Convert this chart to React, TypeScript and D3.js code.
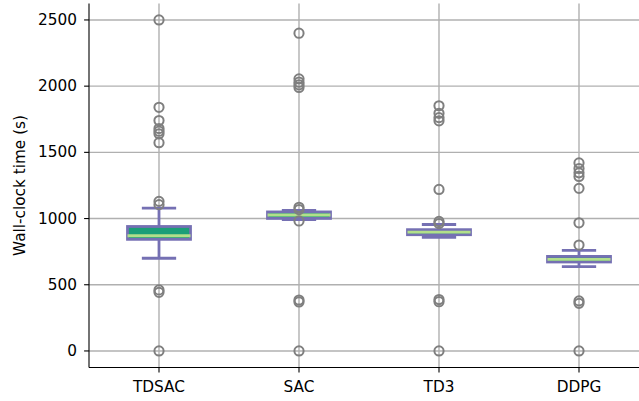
import React from "react";
import * as d3 from "d3";

// Wall-clock time per algorithm, summarised as box statistics (seconds)
const algorithms = ["TDSAC", "SAC", "TD3", "DDPG"];
const whiskerLow = [700, 992, 858, 637];
const q1 = [843, 1001, 878, 672];
const median = [870, 1027, 897, 691];
const q3 = [940, 1050, 916, 714];
const whiskerHigh = [1078, 1062, 955, 760];
const fliers = [
  [2500, 1840, 1740, 1680, 1660, 1640, 1573, 1130, 1105, 461, 443, 0],
  [2400, 2055, 2030, 2010, 1990, 1085, 1068, 982, 385, 370, 0],
  [1852, 1795, 1762, 1738, 1220, 978, 962, 388, 372, 0],
  [1420, 1378, 1345, 1318, 1228, 968, 800, 378, 360, 0],
];
const yTicks = [0, 500, 1000, 1500, 2000, 2500];

const W = 639;
const H = 401;
const axLeft = 89;
const axRight = 649;
const axTop = 3.4;
const axBottom = 367.5;

const purple = "#7570b3";
const fillGreen = "#1b9e77";
const medianGreen = "#b2df8a";
const flierGray = "#7f7f7f";
const gridGray = "#b0b0b0";
const font = "DejaVu Sans, sans-serif";
const fontSize = 15.3;

export default function App() {
  const x = d3
    .scaleLinear()
    .domain([-0.5, algorithms.length - 0.5])
    .range([axLeft, axRight]);
  const y = d3.scaleLinear().domain([-125, 2625]).range([axBottom, axTop]);

  const step = x(1) - x(0);
  const boxW = step * 0.45;
  const capW = boxW * 0.5;

  return (
    <svg
      width={W}
      height={H}
      style={{ position: "absolute", left: 0, top: 0, background: "#fff" }}
      fontFamily={font}
    >
      <defs>
        <clipPath id="plot">
          <rect x={axLeft} y={0} width={axRight - axLeft} height={axBottom} />
        </clipPath>
      </defs>

      {/* grid */}
      <g stroke={gridGray} strokeWidth={1.4}>
        {yTicks.map((t) => (
          <line key={`gy${t}`} x1={axLeft} x2={axRight} y1={y(t)} y2={y(t)} />
        ))}
        {algorithms.map((a, i) => (
          <line key={`gx${a}`} x1={x(i)} x2={x(i)} y1={axTop} y2={axBottom} />
        ))}
      </g>

      {/* boxes */}
      <g clipPath="url(#plot)">
        {algorithms.map((a, i) => {
          const cx = x(i);
          return (
            <g key={a}>
              <line
                x1={cx}
                x2={cx}
                y1={y(whiskerLow[i])}
                y2={y(q1[i])}
                stroke={purple}
                strokeWidth={2.8}
              />
              <line
                x1={cx}
                x2={cx}
                y1={y(q3[i])}
                y2={y(whiskerHigh[i])}
                stroke={purple}
                strokeWidth={2.8}
              />
              <rect
                x={cx - boxW / 2}
                y={y(q3[i])}
                width={boxW}
                height={y(q1[i]) - y(q3[i])}
                fill={fillGreen}
                stroke={purple}
                strokeWidth={2.8}
              />
              <line
                x1={cx - boxW / 2}
                x2={cx + boxW / 2}
                y1={y(median[i])}
                y2={y(median[i])}
                stroke={medianGreen}
                strokeWidth={2.8}
              />
              {[whiskerLow[i], whiskerHigh[i]].map((v, k) => (
                <line
                  key={k}
                  x1={cx - capW / 2}
                  x2={cx + capW / 2}
                  y1={y(v)}
                  y2={y(v)}
                  stroke={purple}
                  strokeWidth={2.8}
                  strokeLinecap="square"
                />
              ))}
              {fliers[i].map((v, k) => (
                <circle
                  key={`f${k}`}
                  cx={cx}
                  cy={y(v)}
                  r={4.6}
                  fill="none"
                  stroke={flierGray}
                  strokeWidth={2}
                />
              ))}
            </g>
          );
        })}
      </g>

      {/* spines */}
      <g stroke="#000" strokeWidth={1.1}>
        <line x1={axLeft} x2={axLeft} y1={axTop} y2={axBottom} />
        <line x1={axLeft} x2={axRight} y1={axBottom} y2={axBottom} />
      </g>

      {/* y axis */}
      <g fontSize={fontSize} fill="#000">
        {yTicks.map((t) => (
          <g key={`yt${t}`}>
            <line
              x1={axLeft - 4.9}
              x2={axLeft}
              y1={y(t)}
              y2={y(t)}
              stroke="#000"
              strokeWidth={1.1}
            />
            <text x={axLeft - 12} y={y(t)} textAnchor="end" dominantBaseline="central">
              {t}
            </text>
          </g>
        ))}
        <text
          transform={`translate(20, ${(axTop + axBottom) / 2}) rotate(-90)`}
          textAnchor="middle"
          dominantBaseline="central"
        >
          Wall-clock time (s)
        </text>
      </g>

      {/* x axis */}
      <g fontSize={fontSize} fill="#000">
        {algorithms.map((a, i) => (
          <g key={`xt${a}`}>
            <line
              x1={x(i)}
              x2={x(i)}
              y1={axBottom}
              y2={axBottom + 4.9}
              stroke="#000"
              strokeWidth={1.1}
            />
            <text x={x(i)} y={392} textAnchor="middle">
              {a}
            </text>
          </g>
        ))}
      </g>
    </svg>
  );
}
